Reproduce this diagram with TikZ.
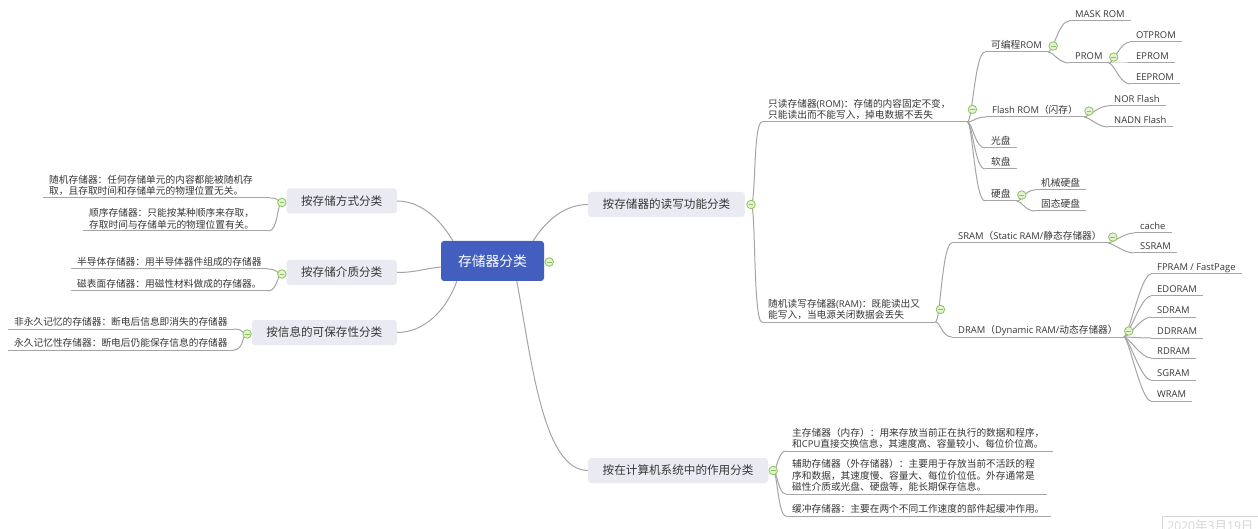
\documentclass[tikz,border=0pt]{standalone}
\usepackage{fontspec}
\setmainfont{Noto Sans CJK SC}
\newfontfamily\latin{Open Sans}[Scale=0.97]
\newcommand\lat[1]{{\latin #1}}
\usetikzlibrary{calc}
\definecolor{linegray}{RGB}{165,165,165}
\definecolor{inkgray}{RGB}{55,55,55}
\definecolor{topicfill}{RGB}{234,234,242}
\definecolor{rootblue}{RGB}{66,94,190}
\definecolor{foldgreen}{RGB}{140,196,90}
\definecolor{foldfill}{RGB}{226,242,212}
\definecolor{stampgray}{RGB}{214,214,214}

\begin{document}
\begin{tikzpicture}[x=1pt, y=-1pt,
    root/.style={rectangle, rounded corners=3pt, fill=rootblue, text=white,
      font=\fontsize{13.8}{16}\selectfont, minimum width=103pt, minimum height=40pt, inner sep=0pt},
    topic/.style={rectangle, rounded corners=3pt, fill=topicfill, text=inkgray,
      font=\fontsize{11.6}{14}\selectfont, minimum height=25pt, inner xsep=14.5pt, inner ysep=0pt},
    note/.style={anchor=south west, inner xsep=6pt, inner ysep=2pt, text=inkgray, align=left,
      font=\fontsize{9.7}{11.5}\selectfont},
    leaf/.style={note, inner ysep=1pt, text height=7.5pt, text depth=2pt},
    branch/.style={draw=linegray, line width=1pt},
    fold/.style={circle, draw=foldgreen, fill=foldfill, line width=0.8pt, minimum size=8.5pt, inner sep=0pt,
      path picture={\draw[foldgreen, line width=0.9pt]
        ([xshift=-2.4pt]path picture bounding box.center) -- ([xshift=2.4pt]path picture bounding box.center);}},
    stamp/.style={draw=stampgray, line width=0.8pt, anchor=north west, text=stampgray,
      font=\fontsize{12.5}{14}\selectfont, inner xsep=5pt, inner ysep=4pt}]
  \useasboundingbox (0,0) rectangle (1258,529);
  \fill[white] (0,0) rectangle (1258,529);

  \node[root] (root) at (492.5,261) {存储器分类};
  \node[topic, anchor=west] (rw)    at (588,204.5) {按存储器的读写功能分类};
  \node[topic, anchor=west] (sys)   at (588,470.5) {按在计算机系统中的作用分类};
  \node[topic, anchor=east] (mode)  at (397,201)   {按存储方式分类};
  \node[topic, anchor=east] (media) at (397,272.5) {按存储介质分类};
  \node[topic, anchor=east] (keep)  at (397,332.5) {按信息的可保存性分类};

  \node[note, text width=215pt] (rand) at (43,198)
    {随机存储器：任何存储单元的内容都能被随机存\\取，且存取时间和存储单元的物理位置无关。};
  \node[note, text width=173pt] (seq) at (83,231)
    {顺序存储器：只能按某种顺序来存取，\\存取时间与存储单元的物理位置有关。};
  \node[leaf] (semi)   at (71,269) {半导体存储器：用半导体器件组成的存储器};
  \node[leaf] (mag)    at (71,291) {磁表面存储器：用磁性材料做成的存储器。};
  \node[leaf] (nonvol) at (8,329)  {非永久记忆的存储器：断电后信息即消失的存储器};
  \node[leaf] (perm)   at (8,350)  {永久记忆性存储器：断电后仍能保存信息的存储器};

  \node[note, text width=193pt] (rom) at (762,122)
    {只读存储器\lat{(ROM)}：存储的内容固定不变，\\只能读出而不能写入，掉电数据不丢失};
  \node[note, text width=161pt] (ram) at (762,322)
    {随机读写存储器\lat{(RAM)}：既能读出又\\能写入，当电源关闭数据会丢失};
  \node[leaf] (prog)   at (985,52)   {可编程\lat{ROM}};
  \node[leaf] (flash)  at (986,117)  {\lat{Flash ROM}（闪存）};
  \node[leaf] (cd)     at (985,148)  {光盘};
  \node[leaf] (floppy) at (985,169)  {软盘};
  \node[leaf] (hdd)    at (985,201)  {硬盘};
  \node[leaf] (mask)   at (1069,21)  {\lat{MASK ROM}};
  \node[leaf] (prom)   at (1069,63)  {\lat{PROM}};
  \node[leaf] (otp)    at (1130,42)  {\lat{OTPROM}};
  \node[leaf] (ep)     at (1130,63)  {\lat{EPROM}};
  \node[leaf] (eep)    at (1130,84)  {\lat{EEPROM}};
  \node[leaf] (nor)    at (1108,106) {\lat{NOR Flash}};
  \node[leaf] (nadn)   at (1108,127) {\lat{NADN Flash}};
  \node[leaf] (mech)   at (1035,190) {机械硬盘};
  \node[leaf] (ssd)    at (1035,211) {固态硬盘};
  \node[leaf] (sram)   at (952,243)  {\lat{SRAM}（\lat{Static RAM/}静态存储器）};
  \node[leaf] (dram)   at (952,337)  {\lat{DRAM}（\lat{Dynamic RAM/}动态存储器）};
  \node[leaf] (cache)  at (1134,233) {\lat{cache}};
  \node[leaf] (ssram)  at (1134,253) {\lat{SSRAM}};
  \node[leaf] (fp)     at (1151,274) {\lat{FPRAM / FastPage}};
  \node[leaf] (edo)    at (1151,296) {\lat{EDORAM}};
  \node[leaf] (sd)     at (1151,317) {\lat{SDRAM}};
  \node[leaf] (ddr)    at (1151,338) {\lat{DDRRAM}};
  \node[leaf] (rd)     at (1151,358) {\lat{RDRAM}};
  \node[leaf] (sg)     at (1151,380) {\lat{SGRAM}};
  \node[leaf] (wram)   at (1151,401) {\lat{WRAM}};

  \node[note, text width=255pt] (main) at (786,451)
    {主存储器（内存）：用来存放当前正在执行的数据和程序，\\和\lat{CPU}直接交换信息，其速度高、容量较小、每位价位高。};
  \node[note, text width=249pt] (aux) at (786,494)
    {辅助存储器（外存储器）：主要用于存放当前不活跃的程\\序和数据，其速度慢、容量大、每位价位低。外存通常是\\磁性介质或光盘、硬盘等，能长期保存信息。};
  \node[leaf] (buf) at (786,516) {缓冲存储器：主要在两个不同工作速度的部件起缓冲作用。};

  \node[stamp] (date) at (1162,516) {\lat{2020}年\lat{3}月\lat{19}日};

  \coordinate (rw-j)    at ($(rw.east)+(6,0)$);
  \coordinate (sys-j)   at ($(sys.east)+(5,0)$);
  \coordinate (mode-j)  at ($(mode.west)+(-4.5,1.5)$);
  \coordinate (media-j) at ($(media.west)+(-4.5,1.5)$);
  \coordinate (keep-j)  at ($(keep.west)+(-4.5,1.5)$);

  \draw[branch] ([xshift=-11pt]root.north east) .. controls +(14,-22) and +(-22,0) .. (rw.west);
  \draw[branch] ([xshift=76pt]root.south west) .. controls +(15,80) and +(-45,0) .. (sys.west);
  \draw[branch] ([xshift=12pt]root.north west) .. controls +(-14,-24) and +(22,0) .. (mode.east);
  \draw[branch] ([yshift=-6pt]root.west) .. controls +(-18,2) and +(18,0) .. (media.east);
  \draw[branch] ([xshift=16pt]root.south west) .. controls +(-10,28) and +(28,0) .. (keep.east);

  \foreach \n in {rand, seq, semi, mag, nonvol, perm, rom, ram, prog, flash, cd, floppy, hdd,
      mask, prom, otp, ep, eep, nor, nadn, mech, ssd, sram, dram, cache, ssram,
      fp, edo, sd, ddr, rd, sg, wram, main, aux, buf}
    \draw[branch] (\n.south west) -- (\n.south east);

  \foreach \c in {rom, ram}
    \draw[branch] (rw-j) .. controls +(5,0) and +(-9,0) .. (\c.south west);
  \foreach \c in {main, aux, buf}
    \draw[branch] (sys-j) .. controls +(4,0) and +(-8,0) .. (\c.south west);
  \foreach \p/\c in {mode/rand, mode/seq, media/semi, media/mag, keep/nonvol, keep/perm}
    \draw[branch] (\p-j) .. controls +(-5,0) and +(10,0) .. (\c.south east);
  \foreach \p/\c in {rom/prog, rom/flash, rom/cd, rom/floppy, rom/hdd, prog/mask, prog/prom,
      prom/otp, prom/ep, prom/eep, flash/nor, flash/nadn, hdd/mech, hdd/ssd,
      ram/sram, ram/dram, sram/cache, sram/ssram, dram/fp, dram/edo, dram/sd,
      dram/ddr, dram/rd, dram/sg, dram/wram}
    \draw[branch] (\p.south east) .. controls +(5,0) and +(-10,0) .. (\c.south west);

  \node[fold] (root-f) at ($(root.east)+(5,1)$) {};
  \foreach \j in {rw, sys, mode, media, keep}
    \node[fold] (\j-f) at (\j-j) {};
  \foreach \n in {rom, ram, prog, prom, flash, hdd, sram, dram}
    \node[fold] (\n-f) at ($(\n.east)+(5,0)$) {};
\end{tikzpicture}
\end{document}
